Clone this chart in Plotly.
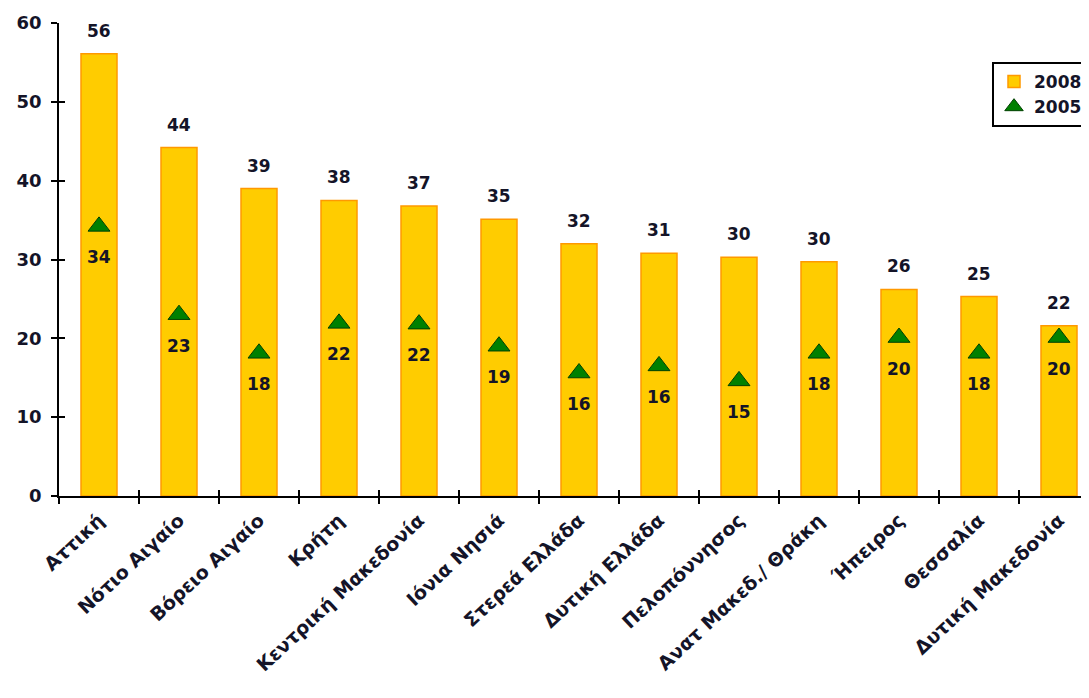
import plotly.graph_objects as go

regions = ["Αττική", "Νότιο Αιγαίο", "Βόρειο Αιγαίο", "Κρήτη", "Κεντρική Μακεδονία",
           "Ιόνια Νησιά", "Στερεά Ελλάδα", "Δυτική Ελλάδα", "Πελοπόννησος",
           "Ανατ Μακεδ./ Θράκη", "Ήπειρος", "Θεσσαλία", "Δυτική Μακεδονία"]
values_2008 = [56.1, 44.2, 39.0, 37.5, 36.8, 35.1, 32.0, 30.8, 30.3, 29.7, 26.2, 25.3, 21.6]
values_2005 = [34.2, 23.0, 18.1, 21.9, 21.8, 19.0, 15.6, 16.5, 14.6, 18.1, 20.1, 18.1, 20.1]
y_ticks = [0, 10, 20, 30, 40, 50, 60]

FONT = "DejaVu Sans"
TXT = "#141428"
xr = [-0.5, 12.375]

fig = go.Figure()
fig.add_trace(go.Bar(
    x=regions, y=values_2008, name="2008", width=0.45,
    marker=dict(color="#FFCC00", line=dict(color="#FF9900", width=1.5)),
))
fig.add_trace(go.Scatter(
    x=regions, y=values_2005, name="2005", mode="markers",
    marker=dict(symbol="triangle-up", size=19, color="#008000",
                line=dict(color="#004000", width=1)),
))
# dummy trace for crossing tick overlay axes
fig.add_trace(go.Scatter(x=[], y=[], xaxis="x2", yaxis="y2", showlegend=False,
                         hoverinfo="skip"))

anns = []
for r, v in zip(regions, values_2008):
    anns.append(dict(x=r, y=v, text=f"{v:.0f}", showarrow=False, yshift=23,
                     font=dict(family=FONT, size=17, color=TXT, weight="bold")))
for r, v in zip(regions, values_2005):
    anns.append(dict(x=r, y=v, text=f"{v:.0f}", showarrow=False, yshift=-31,
                     font=dict(family=FONT, size=17, color=TXT, weight="bold")))

n = len(regions)
boundaries = [i - 0.5 for i in range(n + 1)]

fig.update_layout(
    width=1081, height=690,
    margin=dict(l=51, r=0, t=15, b=202, autoexpand=False),
    paper_bgcolor="white", plot_bgcolor="white",
    bargap=0.55,
    annotations=anns,
    font=dict(family=FONT, color=TXT),
    legend=dict(x=1.0, xanchor="right", y=0.9175, yanchor="top",
                bordercolor="black", borderwidth=2, bgcolor="white",
                font=dict(family=FONT, size=17, color=TXT, weight="bold"),
                tracegroupgap=2, itemwidth=30),
    xaxis=dict(type="category", range=xr, showline=True, linecolor="black", linewidth=1.5,
               ticks="outside", ticklen=6, tickcolor="black", tickwidth=1.5,
               tickson="boundaries", tickangle=-43, showgrid=False, ticklabelstandoff=4,
               tickfont=dict(family=FONT, size=19, color=TXT, weight="bold")),
    yaxis=dict(range=[0, 60], tickvals=y_ticks, showline=True, linecolor="black",
               linewidth=1.5, ticks="outside", ticklen=6, tickcolor="black", tickwidth=1.5,
               showgrid=False, zeroline=False, ticklabelstandoff=6,
               tickfont=dict(family=FONT, size=18, color=TXT, weight="bold")),
    xaxis2=dict(overlaying="x", anchor="y", side="bottom", range=xr, tickvals=boundaries,
                ticks="inside", ticklen=6, tickcolor="black", tickwidth=1.5,
                showticklabels=False, showline=False, showgrid=False, zeroline=False),
    yaxis2=dict(overlaying="y", anchor="x", side="left", range=[0, 60], tickvals=y_ticks,
                ticks="inside", ticklen=6, tickcolor="black", tickwidth=1.5,
                showticklabels=False, showline=False, showgrid=False, zeroline=False),
)

fig.write_html("out.html")
